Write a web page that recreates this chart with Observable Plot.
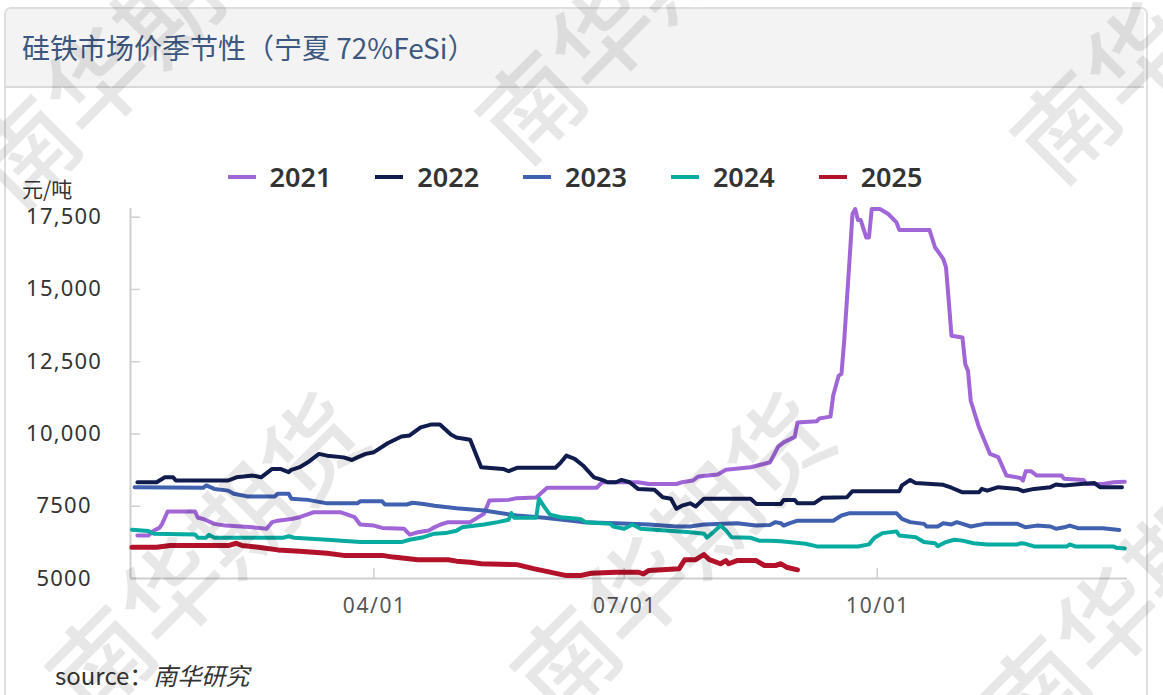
<!DOCTYPE html>
<html><head><meta charset="utf-8">
<script src="https://cdn.jsdelivr.net/npm/d3@7"></script>
<script src="https://cdn.jsdelivr.net/npm/@observablehq/plot@0.6"></script>
<style>
html,body{margin:0;padding:0;background:#fff;}
#wrap{position:relative;width:1163px;height:695px;overflow:hidden;font-family:"Noto Sans CJK SC","Noto Sans",sans-serif;}
#card{position:absolute;left:4px;top:7px;width:1144px;height:720px;border:2px solid #dedede;border-radius:7px;box-sizing:border-box;}
#titlebar{position:absolute;left:6px;top:9px;width:1138px;height:77px;background:#f3f3f3;border-bottom:2px solid #d9d9d9;border-radius:5px 5px 0 0;}
#title{position:absolute;left:22px;top:31px;font-size:28px;line-height:32px;color:#3d5780;white-space:nowrap;}
#legend{position:absolute;left:0;top:161px;width:1150px;height:32px;display:flex;justify-content:center;align-items:center;gap:44px;}
.item{display:flex;align-items:center;gap:14px;font-size:27px;font-weight:600;color:#333;line-height:32px;font-family:"Noto Sans",sans-serif;}
.sw{width:28px;height:4px;}
#unit{position:absolute;left:22px;top:175px;font-size:21px;line-height:26px;color:#333;}
#chart{position:absolute;left:0;top:195px;}
#source{position:absolute;left:55px;top:660px;font-size:24px;line-height:30px;color:#333;}
#source i{font-style:italic;}
.wm{position:absolute;font-size:100px;line-height:100px;height:100px;color:rgba(0,0,0,0.095);transform:rotate(-45deg);transform-origin:0 50%;white-space:nowrap;pointer-events:none;font-weight:500;}
</style></head>
<body>
<div id="wrap">
  <div id="card"></div>
  <div id="titlebar"></div>
  <div id="title">硅铁市场价季节性（宁夏 72%FeSi）</div>
  <div id="legend"></div>
  <div id="unit">元/吨</div>
  <div id="chart"></div>
  <div id="source">source：<i>南华研究</i></div>
  <div id="wms"></div>
</div>
<script>
const years = ["2021","2022","2023","2024","2025"];
const colors = ["#a066d8","#111c4e","#4060b0","#07ab9f","#b4122b"];
const yTicks = [5000,7500,10000,12500,15000,17500];
const xTickLabels = ["04-01","07-01","10-01"];

const dates2021 = ["01-05","01-09","01-11","01-13","01-14","01-16","01-26","01-27","01-29","02-02","02-06","02-16","02-21","02-23","02-25","03-02","03-05","03-10","03-20","03-25","03-27","04-01","04-04","04-12","04-14","04-17","04-21","04-23","04-25","04-28","05-06","05-11","05-13","05-20","05-23","05-30","06-03","06-21","06-23","07-06","07-10","07-20","07-22","07-26","07-28","08-04","08-07","08-16","08-21","08-23","08-24","08-26","08-28","09-01","09-02","09-09","09-10","09-14","09-15","09-17","09-18","09-19","09-21","09-22","09-23","09-24","09-25","09-27","09-28","09-29","10-02","10-05","10-08","10-09","10-20","10-22","10-25","10-26","10-27","10-28","11-01","11-02","11-03","11-04","11-07","11-10","11-11","11-14","11-17","11-22","11-23","11-24","11-26","11-28","12-07","12-08","12-15","12-16","12-22","12-26","12-30"];
const vals2021 = [6490,6490,6660,6750,6890,7320,7320,7100,7060,6890,6830,6770,6720,6950,7000,7060,7120,7290,7290,7120,6870,6830,6750,6720,6520,6600,6660,6770,6860,6950,6950,7240,7700,7720,7780,7800,8140,8140,8330,8330,8270,8270,8330,8390,8530,8600,8760,8850,8970,9020,9200,9560,9710,9900,10400,10440,10540,10600,11330,12020,12080,13230,16110,17610,17780,17400,17400,16800,16800,17780,17780,17610,17320,17060,17060,16460,16060,15770,14610,13400,13340,12420,12190,11150,10230,9540,9310,9200,8560,8480,8390,8710,8710,8560,8560,8450,8410,8270,8270,8330,8350];

const dates2022 = ["01-05","01-12","01-15","01-18","01-19","02-07","02-10","02-16","02-19","02-23","02-26","03-01","03-02","03-05","03-08","03-12","03-15","03-21","03-24","03-26","03-29","04-01","04-06","04-11","04-14","04-18","04-22","04-25","04-29","05-01","05-06","05-10","05-18","05-20","05-23","06-06","06-08","06-10","06-13","06-16","06-20","06-23","06-25","06-28","06-30","07-03","07-06","07-12","07-15","07-18","07-20","07-22","07-25","07-27","07-30","08-16","08-18","08-27","08-28","09-01","09-02","09-08","09-11","09-20","09-22","10-09","10-10","10-13","10-15","10-25","10-28","11-01","11-07","11-08","11-10","11-14","11-21","11-23","11-27","12-03","12-05","12-08","12-14","12-19","12-21","12-29"];
const vals2022 = [8330,8330,8500,8500,8390,8390,8500,8560,8500,8790,8790,8680,8760,8850,9020,9310,9250,9190,9100,9190,9310,9370,9680,9910,9950,10230,10330,10330,9980,9880,9800,8850,8790,8710,8830,8830,9020,9250,9140,8910,8500,8410,8330,8330,8410,8330,8100,8070,7810,7760,7410,7520,7600,7490,7760,7760,7580,7580,7720,7720,7600,7600,7790,7810,8020,8020,8220,8410,8300,8240,8140,7980,7980,8100,8040,8160,8100,8020,8100,8160,8250,8220,8270,8300,8160,8160];

const dates2023 = ["01-04","01-29","01-30","02-02","02-07","02-09","02-14","02-24","02-25","03-01","03-02","03-08","03-15","03-26","03-27","04-04","04-05","04-13","04-15","04-19","04-23","05-01","05-11","05-23","06-02","06-16","06-28","07-10","07-20","07-25","07-30","08-11","08-18","08-23","08-25","08-27","08-28","08-30","09-02","09-15","09-18","09-21","10-08","10-10","10-13","10-18","10-19","10-23","10-25","10-28","10-30","11-01","11-04","11-09","11-21","11-24","11-28","12-03","12-05","12-08","12-10","12-13","12-22","12-28"];
const vals2023 = [8160,8140,8220,8100,8040,7930,7840,7840,7930,7930,7760,7720,7600,7600,7670,7670,7560,7560,7620,7580,7520,7430,7350,7180,7100,6950,6910,6870,6800,6800,6870,6910,6830,6850,6950,6910,6830,6910,7000,7000,7180,7260,7260,7060,6950,6890,6800,6800,6910,6870,6950,6890,6800,6890,6890,6770,6830,6800,6720,6770,6830,6740,6740,6680];

const dates2024 = ["01-03","01-09","01-11","01-26","01-27","01-30","01-31","02-02","02-27","03-01","03-03","03-15","03-27","04-11","04-14","04-19","04-23","04-27","05-01","05-03","05-11","05-16","05-20","05-21","05-22","05-30","05-31","06-02","06-04","06-08","06-15","06-17","06-26","06-27","07-01","07-04","07-07","07-16","07-25","07-30","07-31","08-02","08-05","08-07","08-09","08-16","08-19","08-23","08-27","09-05","09-09","09-24","09-28","09-30","10-03","10-08","10-09","10-15","10-18","10-22","10-23","10-26","10-29","11-01","11-05","11-10","11-21","11-22","11-24","11-27","12-09","12-10","12-12","12-26","12-27","12-30"];
const vals2024 = [6690,6640,6550,6520,6410,6410,6510,6410,6410,6460,6410,6340,6260,6260,6340,6430,6550,6570,6650,6770,6870,6950,7030,7260,7100,7100,7760,7470,7210,7120,7060,6950,6890,6800,6720,6870,6720,6660,6600,6550,6410,6570,6830,6660,6430,6410,6310,6310,6290,6200,6110,6110,6180,6410,6570,6630,6490,6430,6260,6220,6120,6260,6340,6310,6220,6180,6180,6220,6200,6110,6110,6180,6110,6110,6060,6040];

const dates2025 = ["01-03","01-12","01-17","02-07","02-10","02-12","02-18","02-25","03-05","03-15","03-21","04-04","04-08","04-17","04-28","05-01","05-06","05-10","05-23","05-29","06-04","06-10","06-15","06-19","06-28","07-06","07-08","07-10","07-21","07-23","07-27","07-30","08-01","08-05","08-07","08-08","08-11","08-18","08-21","08-25","08-27","08-29","09-02"];
const vals2025 = [6080,6080,6140,6140,6220,6140,6080,5990,5940,5870,5800,5800,5740,5650,5650,5600,5560,5510,5480,5340,5220,5100,5100,5180,5220,5220,5160,5280,5340,5650,5650,5830,5650,5510,5620,5510,5620,5620,5450,5450,5510,5390,5300];

const seriesDates = [dates2021,dates2022,dates2023,dates2024,dates2025];
const seriesVals = [vals2021,vals2022,vals2023,vals2024,vals2025];

const toDate = s => { const [m,d] = s.split("-").map(Number); return new Date(2021, m-1, d); };
const rows = [];
years.forEach((y,i) => seriesDates[i].forEach((d,j) => rows.push({year:y, date:toDate(d), value:seriesVals[i][j]})));

// legend
const lg = document.getElementById("legend");
years.forEach((y,i) => {
  const it = document.createElement("div"); it.className = "item";
  it.innerHTML = `<span class="sw" style="background:${colors[i]}"></span><span>${y}</span>`;
  lg.appendChild(it);
});

const x0 = new Date(2021,0,2,12), x1 = new Date(2021,11,31);
const yFmt = d => d >= 10000 ? d3.format(",")(d) : String(d);
const chart = Plot.plot({
  width: 1163, height: 440,
  marginLeft: 130, marginRight: 36, marginTop: 13, marginBottom: 57,
  style: {background: "transparent", fontFamily: "'Noto Sans', sans-serif", overflow: "visible"},
  x: {type: "time", domain: [x0, x1]},
  y: {domain: [5000, 17800]},
  color: {domain: years, range: colors},
  marks: [
    Plot.ruleX([x0], {stroke: "#cfcfcf", strokeWidth: 2}),
    Plot.ruleY([5000], {stroke: "#cfcfcf", strokeWidth: 2}),
    Plot.axisY(yTicks, {tickSize: -10, tickPadding: 77, textAnchor: "middle", tickFormat: yFmt, fontSize: 22, fill: "#333", stroke: "#cfcfcf", strokeWidth: 1.5, label: null}),
    Plot.axisX(xTickLabels.map(toDate), {tickSize: -10, tickPadding: 30, tickFormat: d3.timeFormat("%m/%d"), fontSize: 21, fill: "#555", stroke: "#cfcfcf", strokeWidth: 1.5, label: null}),
    Plot.line(rows.filter(d => d.year !== "2025"), {x: "date", y: "value", z: "year", stroke: "year", strokeWidth: 4, strokeLinejoin: "round"}),
    Plot.line(rows.filter(d => d.year === "2025"), {x: "date", y: "value", z: "year", stroke: "year", strokeWidth: 5, strokeLinejoin: "round"})
  ]
});
d3.select(chart).selectAll('[aria-label="y-axis tick label"] text').attr("letter-spacing", "1.2").attr("dx", "0.6");
d3.select(chart).selectAll('[aria-label="x-axis tick label"] text').attr("letter-spacing", "1.6").attr("dx", "0.8");
document.getElementById("chart").appendChild(chart);

// watermark: [left, middle-y] of each rotated "南华期货"
const wms = document.getElementById("wms");
[[-13,183],[492,138],[1027,158],[62,693],[527,693],[997,723]].forEach(([l,m]) => {
  const s = document.createElement("span"); s.className = "wm"; s.textContent = "南华期货";
  s.style.left = l + "px"; s.style.top = (m - 50) + "px";
  wms.appendChild(s);
});
</script>
</body></html>
